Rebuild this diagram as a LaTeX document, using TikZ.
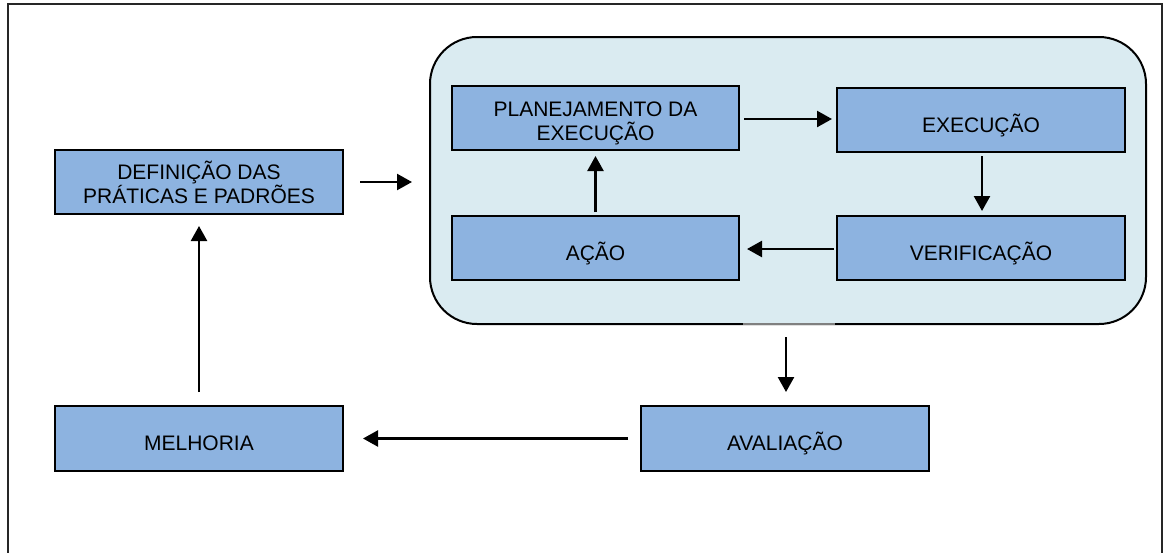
\documentclass[tikz,border=0pt]{standalone}
\usepackage{fontspec}
\setmainfont{Liberation Sans}
\usetikzlibrary{arrows.meta}
\definecolor{boxblue}{HTML}{8DB3E0}
\definecolor{panel}{HTML}{DAEBF1}
\tikzset{
  blk/.style={draw=black, line width=2pt, fill=boxblue, rectangle, inner sep=0pt,
    minimum width=288pt, minimum height=64pt, align=center,
    font=\fontsize{21}{24}\selectfont},
  one/.style={text height=24pt, text depth=0pt},
  arr/.style={line width=2.4pt, -{Triangle[length=15pt,width=16pt]}},
}
\begin{document}
\begin{tikzpicture}[x=1pt,y=-1pt]
\useasboundingbox (0,0) rectangle (1164,552);
\fill[white] (0,0) rectangle (1164,552);
\draw[line width=2pt, black!85] (8,553) -- (8,4) -- (1162,4) -- (1162,553);
\node[draw=black, line width=2pt, fill=panel, rounded corners=47pt, minimum width=716pt, minimum height=287pt, inner sep=0pt] (cont) at (788,180.5) {};
\draw[line width=2.5pt, gray] (743,324) -- (835,324);
\node[blk] (def) at (199,182) {DEFINIÇÃO DAS\\PRÁTICAS E PADRÕES};
\node[blk, minimum width=287pt] (plan) at (595.5,118) {\rule{0pt}{26pt}PLANEJAMENTO DA\\EXECUÇÃO};
\node[blk, one] (exec) at (981,120) {EXECUÇÃO};
\node[blk, one, minimum width=287pt] (acao) at (595.5,248) {AÇÃO};
\node[blk, one] (verif) at (981,248) {VERIFICAÇÃO};
\node[blk, one, minimum height=65pt] (melh) at (199,438.5) {MELHORIA};
\node[blk, one, minimum height=65pt] (aval) at (785,438.5) {AVALIAÇÃO};
\draw[arr, shorten <=16pt, shorten >=17pt] (def.east) -- (def.east -| cont.west);
\draw[arr, shorten <=4pt, shorten >=4pt] ([yshift=-1pt]plan.east) -- ([yshift=-1pt]plan.east -| exec.west);
\draw[arr, shorten <=3pt, shorten >=4pt] ([xshift=1pt]exec.south) -- ([xshift=1pt]exec.south |- verif.north);
\draw[arr, shorten <=2pt, shorten >=7pt] ([yshift=-1pt]verif.west) -- ([yshift=-1pt]verif.west -| acao.east);
\draw[arr, shorten <=3pt, shorten >=5pt] (acao.north) -- (acao.north |- plan.south);
\draw[arr, shorten <=12pt, shorten >=13pt] ([xshift=-2pt]cont.south) -- ([xshift=-2pt]cont.south |- aval.north);
\draw[arr, shorten <=12pt, shorten >=19pt] (aval.west) -- (aval.west -| melh.east);
\draw[arr, shorten <=13pt, shorten >=11pt] (melh.north) -- (melh.north |- def.south);
\end{tikzpicture}
\end{document}
